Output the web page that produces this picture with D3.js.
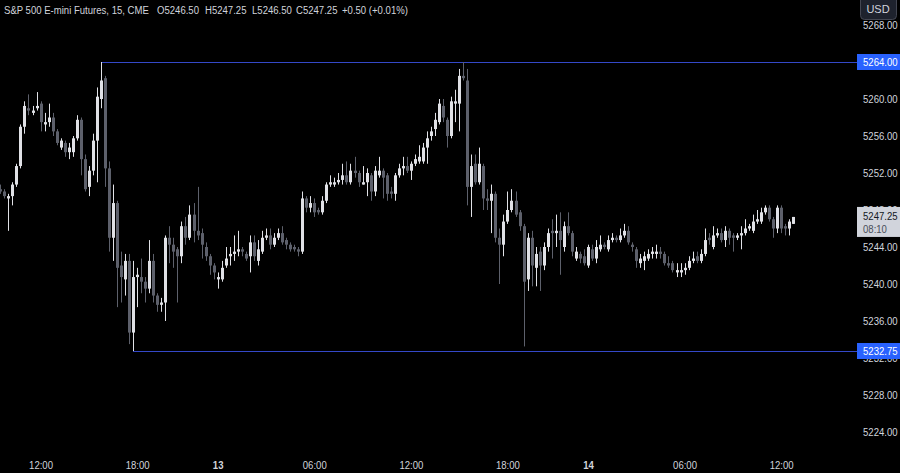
<!DOCTYPE html>
<html><head><meta charset="utf-8">
<script src="https://cdn.jsdelivr.net/npm/d3@7"></script>
<style>html,body{margin:0;padding:0;background:#000;}svg{display:block;}</style>
</head><body>
<svg id="c" width="900" height="473"></svg>
<script>
// ---- data (15-min bars, S&P 500 E-mini Futures) ----
const opens = [5250.25,5250.0,5249.25,5249.5,5250.75,5252.75,5257.0,5259.0,5258.5,5259.0,
5259.5,5257.25,5257.5,5258.0,5256.5,5254.75,5255.25,5254.25,5254.25,5255.75,
5257.75,5253.5,5250.5,5252.25,5255.5,5260.0,5262.25,5252.5,5245.0,5248.75,
5242.0,5240.5,5242.5,5234.75,5240.75,5240.75,5240.25,5239.5,5242.5,5238.75,
5237.75,5238.0,5245.0,5244.25,5243.75,5243.0,5246.25,5245.0,5247.5,5245.75,
5245.5,5244.0,5243.0,5242.0,5240.5,5240.5,5242.0,5243.0,5243.25,5243.5,
5243.75,5243.25,5243.0,5244.5,5242.5,5243.5,5245.0,5245.25,5244.25,5245.0,
5245.5,5244.75,5244.25,5244.0,5243.75,5243.5,5249.25,5248.25,5248.75,5248.0,
5247.75,5249.0,5250.75,5250.75,5251.0,5251.25,5251.75,5251.0,5252.25,5252.0,
5250.75,5251.0,5251.75,5250.0,5251.75,5252.25,5251.75,5250.0,5249.75,5251.75,
5252.5,5252.75,5252.25,5253.0,5253.25,5253.25,5254.75,5256.0,5256.75,5257.5,
5259.25,5257.75,5256.0,5259.5,5259.5,5262.5,5262.0,5250.5,5253.0,5251.0,
5252.75,5249.25,5249.0,5249.75,5245.0,5244.25,5246.75,5248.0,5249.0,5247.75,
5246.25,5240.5,5245.0,5241.75,5243.5,5242.0,5244.0,5245.75,5245.5,5245.75,
5244.0,5246.25,5245.5,5242.75,5243.25,5243.0,5242.0,5243.75,5242.75,5243.75,
5244.25,5243.75,5244.75,5245.0,5244.75,5245.25,5245.75,5244.25,5243.75,5242.25,
5242.5,5242.75,5243.25,5243.25,5243.5,5243.25,5242.25,5242.25,5241.25,5241.25,
5241.5,5241.75,5242.5,5243.0,5242.5,5243.25,5245.0,5244.0,5245.25,5245.5,
5244.75,5245.75,5245.25,5245.0,5245.25,5245.5,5246.0,5245.75,5246.75,5246.75,
5247.75,5248.25,5247.0,5246.0,5248.25,5246.25,5246.0,5246.5];
const highs = [5250.75,5250.25,5249.75,5251.0,5253.0,5257.25,5259.75,5260.5,5259.25,5260.75,
5259.75,5258.5,5259.5,5258.5,5256.75,5255.75,5255.5,5255.25,5256.0,5258.25,
5258.0,5254.0,5252.75,5256.25,5261.25,5264.0,5262.5,5253.25,5250.75,5249.0,
5243.5,5243.25,5243.25,5242.5,5241.75,5242.75,5240.75,5244.75,5243.25,5239.0,
5238.5,5245.25,5246.25,5245.0,5244.0,5246.75,5247.25,5248.5,5248.75,5250.5,
5246.0,5244.5,5243.25,5242.25,5241.25,5242.5,5244.0,5244.0,5245.25,5245.75,
5244.0,5243.5,5245.25,5245.25,5244.75,5245.75,5246.0,5246.0,5245.5,5246.0,
5246.25,5245.0,5244.5,5244.25,5244.0,5250.0,5249.5,5249.5,5249.25,5248.25,
5249.5,5251.0,5251.75,5251.5,5252.0,5253.0,5253.25,5253.0,5253.75,5252.25,
5252.75,5252.5,5252.0,5252.75,5253.75,5252.5,5252.0,5250.5,5252.0,5253.0,
5253.75,5253.75,5253.25,5254.0,5255.0,5255.25,5256.5,5257.0,5258.5,5260.0,
5260.0,5258.0,5260.25,5261.0,5263.25,5264.0,5263.25,5254.0,5254.0,5254.75,
5253.0,5250.25,5250.75,5250.0,5246.0,5247.5,5250.0,5250.25,5250.0,5248.0,
5246.5,5245.5,5245.75,5244.0,5244.0,5244.5,5246.0,5247.0,5247.5,5247.75,
5246.75,5247.75,5245.75,5244.0,5243.5,5243.75,5244.25,5244.25,5244.75,5245.25,
5244.5,5245.25,5245.5,5245.25,5246.0,5246.5,5246.25,5244.5,5244.0,5243.25,
5243.5,5243.75,5244.0,5244.25,5244.0,5243.5,5243.0,5242.5,5242.25,5242.25,
5242.25,5243.0,5243.5,5243.5,5243.75,5246.0,5245.5,5246.25,5246.0,5246.0,
5246.25,5246.0,5245.5,5245.5,5246.25,5247.0,5246.5,5247.5,5248.0,5248.25,
5248.5,5248.5,5247.25,5248.5,5248.5,5246.5,5247.0,5247.25];
const lows = [5249.75,5249.25,5245.75,5248.5,5250.5,5252.5,5256.25,5258.25,5258.25,5258.75,
5256.5,5256.5,5257.0,5256.0,5255.0,5254.5,5253.75,5253.5,5253.75,5255.5,
5251.75,5250.0,5249.5,5251.75,5251.0,5259.0,5250.5,5243.5,5242.5,5237.5,
5238.0,5238.75,5233.5,5232.75,5237.5,5239.0,5238.0,5239.0,5238.0,5237.0,
5237.0,5236.0,5242.25,5241.75,5238.0,5242.25,5244.25,5244.75,5244.5,5244.75,
5242.75,5242.5,5241.0,5240.5,5239.5,5240.25,5241.75,5242.0,5242.5,5243.0,
5243.0,5242.5,5241.25,5242.5,5242.0,5243.25,5244.75,5243.75,5244.0,5244.75,
5244.25,5243.75,5243.5,5243.5,5243.0,5243.25,5247.75,5247.75,5247.25,5247.5,
5247.5,5248.75,5250.5,5250.5,5250.75,5250.75,5250.75,5250.75,5251.5,5250.5,
5250.75,5249.5,5249.0,5249.5,5251.5,5249.25,5249.0,5249.25,5249.0,5251.5,
5251.75,5252.0,5251.25,5252.75,5253.0,5253.0,5253.0,5255.5,5256.0,5257.25,
5257.5,5254.75,5255.75,5257.5,5256.5,5262.0,5248.5,5247.25,5250.75,5250.75,
5248.0,5248.0,5245.5,5244.5,5240.0,5243.0,5246.5,5247.75,5247.25,5245.75,
5233.25,5239.25,5239.75,5239.75,5239.25,5241.5,5243.5,5242.75,5244.0,5241.0,
5243.5,5245.25,5243.0,5242.5,5242.25,5242.0,5241.75,5242.5,5242.25,5243.5,
5243.75,5243.5,5244.5,5244.5,5244.5,5245.0,5244.25,5243.5,5241.75,5241.75,
5241.5,5242.5,5242.75,5242.75,5242.75,5242.0,5241.75,5241.25,5240.75,5240.75,
5241.0,5241.5,5242.25,5242.25,5242.25,5243.0,5244.25,5243.75,5245.0,5244.5,
5244.0,5244.25,5243.5,5244.75,5243.75,5245.25,5245.75,5245.5,5246.5,5246.5,
5247.5,5246.75,5245.0,5245.5,5245.5,5245.25,5245.25,5246.5];
const closes = [5250.0,5249.5,5249.5,5250.75,5252.75,5257.0,5259.25,5258.75,5258.75,5259.25,
5257.5,5257.5,5258.0,5256.5,5255.25,5255.5,5254.25,5254.75,5255.75,5257.75,
5253.5,5250.25,5252.25,5255.5,5260.25,5262.0,5252.5,5245.0,5248.75,5241.75,
5240.75,5242.5,5234.75,5240.75,5241.0,5240.25,5239.5,5242.5,5238.75,5237.75,
5238.0,5245.0,5244.25,5243.5,5243.0,5246.25,5245.0,5247.5,5245.75,5245.25,
5244.25,5243.0,5242.0,5241.25,5240.75,5241.75,5242.75,5243.25,5243.5,5243.75,
5243.5,5242.75,5244.5,5243.0,5243.75,5245.0,5245.25,5244.25,5245.0,5245.5,
5244.5,5244.25,5243.75,5243.75,5243.5,5249.25,5248.25,5248.75,5247.75,5247.75,
5249.0,5250.75,5251.0,5251.0,5251.25,5251.75,5251.0,5252.25,5252.0,5251.0,
5251.0,5252.0,5250.0,5252.25,5252.25,5251.5,5249.75,5249.75,5251.75,5252.5,
5252.75,5252.25,5253.0,5253.5,5253.75,5254.75,5255.75,5256.5,5257.75,5259.5,
5258.0,5256.0,5259.75,5259.75,5262.5,5262.25,5250.5,5252.75,5251.0,5253.0,
5249.25,5249.0,5249.75,5245.0,5244.25,5246.75,5248.0,5249.0,5247.5,5246.25,
5240.25,5245.0,5242.0,5243.25,5242.0,5244.0,5245.5,5245.5,5245.75,5244.75,
5246.25,5245.5,5243.5,5243.5,5242.75,5242.25,5244.0,5242.75,5244.0,5244.25,
5244.0,5244.75,5245.0,5244.75,5245.25,5245.75,5244.5,5244.0,5242.5,5242.75,
5243.0,5243.25,5243.5,5243.5,5243.25,5242.25,5242.0,5241.5,5241.5,5241.5,
5241.75,5242.5,5242.75,5242.5,5243.25,5244.75,5244.75,5245.25,5245.5,5244.75,
5245.75,5245.0,5245.0,5245.25,5245.5,5246.0,5246.25,5246.75,5247.0,5247.75,
5248.25,5247.0,5246.0,5248.25,5246.0,5246.0,5246.75,5247.25];

const timeTickIdx = [10,34,54,78,102,126,146,170,194];
const timeTickLabels = ["12:00","18:00","13","06:00","12:00","18:00","14","06:00","12:00"];
const dayLabels = ["13","14"];
const priceTicks = [5224,5228,5232,5236,5240,5244,5248,5252,5256,5260,5264,5268];
const levelPrices = [5264.00, 5232.75];
const levelStartIdx = [25, 33];
const headerParts = ["S&P 500 E-mini Futures, 15, CME","O5246.50","H5247.25","L5246.50","C5247.25","+0.50 (+0.01%)"];
const lastPrice = 5247.25, countdown = "08:10";

// ---- drawing ----
const svg = d3.select("#c");
const W = 900, H = 473, plotRight = 855;
const SX = 0.87; // horizontal squeeze to mimic the narrow UI font
svg.append("rect").attr("width",W).attr("height",H).attr("fill","#000");

const bars = d3.range(opens.length).map(i => ({i, o:opens[i], h:highs[i], l:lows[i], c:closes[i]}));
const x = d3.scaleLinear().domain([0, bars.length-1]).range([0.3, 0.3 + 4.025*(bars.length-1)]);
const y = d3.scaleLinear().domain([5224, 5264]).range([432, 62]);

const upCol = "#e0e1e6", dnCol = "#5d606b";
const FONT = "'Liberation Sans', Arial, sans-serif";

// level lines
const levels = levelPrices.map((p,k)=>({p, i:levelStartIdx[k]}));
svg.append("g").selectAll("line").data(levels).join("line")
  .attr("x1", d=>x(d.i)).attr("x2", plotRight+2)
  .attr("y1", d=>Math.round(y(d.p))+0.5).attr("y2", d=>Math.round(y(d.p))+0.5)
  .attr("stroke","#3448c8").attr("stroke-width",1);

// candles
const g = svg.append("g");
g.selectAll("line.w").data(bars).join("line").attr("class","w")
  .attr("x1", d=>Math.round(x(d.i))+0.5).attr("x2", d=>Math.round(x(d.i))+0.5)
  .attr("y1", d=>y(d.h)).attr("y2", d=>y(d.l))
  .attr("stroke", d=>d.c>=d.o?upCol:dnCol).attr("stroke-width",1);
g.selectAll("rect.b").data(bars).join("rect").attr("class","b")
  .attr("x", d=>Math.round(x(d.i))-1).attr("width",3)
  .attr("y", d=>y(Math.max(d.o,d.c)))
  .attr("height", d=>Math.max(1, Math.abs(y(d.o)-y(d.c))))
  .attr("fill", d=>d.c>=d.o?upCol:dnCol);

// right price axis
const yAxis = d3.axisRight(y).tickValues(priceTicks).tickFormat(d=>d.toFixed(2)).tickSize(0).tickPadding(0);
const ya = svg.append("g").attr("transform",`translate(863,0)`).call(yAxis);
ya.select(".domain").remove();
ya.selectAll("text").attr("fill","#d1d4dc").attr("font-family",FONT).attr("font-size",11)
  .attr("transform",`scale(${SX},1)`);

// bottom time axis
const xAxis = d3.axisBottom(x).tickValues(timeTickIdx)
  .tickFormat((d,k)=>timeTickLabels[k]).tickSize(0).tickPadding(0);
const xa = svg.append("g").attr("transform",`translate(0,461)`).call(xAxis);
xa.select(".domain").remove();
xa.selectAll("text").attr("fill", "#d1d4dc").attr("font-family",FONT).attr("font-size",11)
  .attr("transform",`scale(${SX},1)`)
  .attr("font-weight",(d,k)=>dayLabels.includes(timeTickLabels[k])?"bold":"normal");

// level labels
const lg = svg.append("g").selectAll("g").data(levels).join("g")
  .attr("transform", d=>`translate(857,${Math.round(y(d.p))})`);
lg.append("rect").attr("x",0).attr("y",-8).attr("width",43).attr("height",16).attr("fill","#2962ff");
lg.append("text").attr("transform",`translate(6,4) scale(${SX},1)`).attr("fill","#fff")
  .attr("font-family",FONT).attr("font-size",11).text(d=>d.p.toFixed(2));

// last price label
const ly = y(lastPrice);
svg.append("rect").attr("x",857).attr("y",ly-10).attr("width",43).attr("height",30).attr("fill","#d1d4dc");
svg.append("text").attr("transform",`translate(863,${ly+3}) scale(${SX},1)`).attr("fill","#131722")
  .attr("font-family",FONT).attr("font-size",11).text(lastPrice.toFixed(2));
svg.append("text").attr("transform",`translate(863,${ly+16}) scale(${SX},1)`).attr("fill","#4a4e5a")
  .attr("font-family",FONT).attr("font-size",11).text(countdown);

// USD box
svg.append("rect").attr("x",860.5).attr("y",-4.5).attr("width",36).attr("height",24).attr("rx",4)
  .attr("fill","#1e222d").attr("stroke","#434651");
svg.append("text").attr("x",878).attr("y",13).attr("text-anchor","middle").attr("fill","#d1d4dc")
  .attr("font-family",FONT).attr("font-size",11).text("USD");

// header
const hx = [4,157,205,252,296,342];
svg.append("g").selectAll("text").data(headerParts).join("text")
  .attr("transform",(d,k)=>`translate(${hx[k]},14) scale(${SX},1)`).attr("fill","#d1d4dc")
  .attr("font-family",FONT).attr("font-size",11)
  .text(d=>d);
</script>
</body></html>
